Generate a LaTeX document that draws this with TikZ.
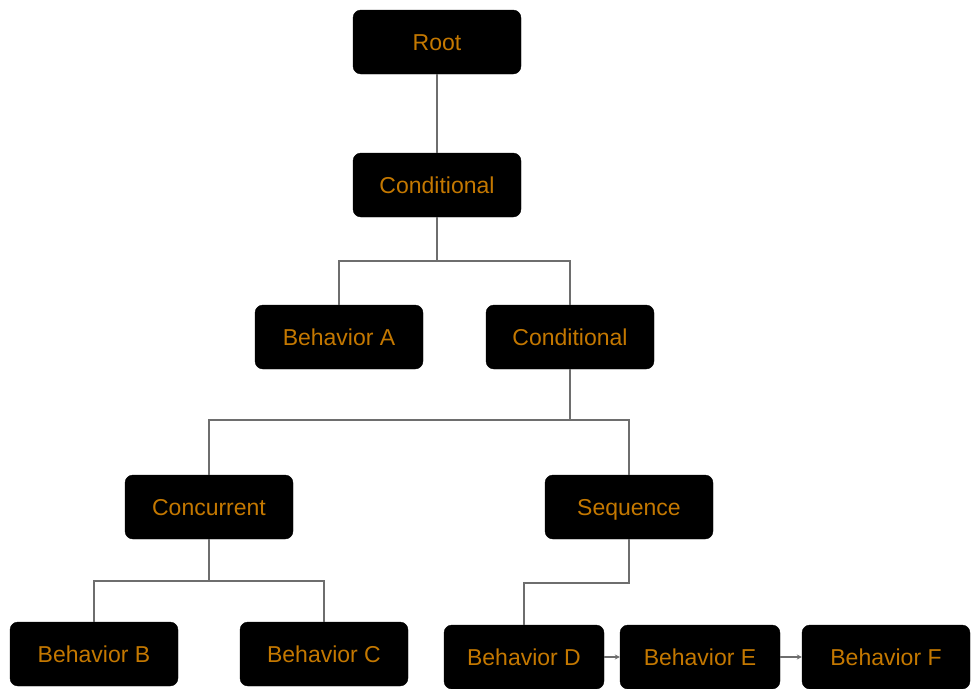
\documentclass[tikz,border=0pt]{standalone}
\usepackage{fontspec}
\setmainfont{Liberation Sans}
\usetikzlibrary{arrows.meta}
\definecolor{bhtext}{RGB}{196,120,0}
\definecolor{bhline}{RGB}{110,110,110}

\begin{document}
\begin{tikzpicture}[x=1pt,y=-1pt,
  bnode/.style={fill=black, draw=black, rounded corners=8pt, minimum width=168pt, minimum height=64pt,
    inner sep=0pt, text height=16pt, text depth=0pt, text=bhtext, font=\fontsize{23}{26}\selectfont},
  wide/.style={minimum width=160pt},
  link/.style={draw=bhline, line width=1.8pt}]
\useasboundingbox (0,0) rectangle (974,688);
\node[bnode] (root) at (437,42) {Root};
\node[bnode] (cond1) at (437,185) {Conditional};
\node[bnode] (behA) at (339,337) {Behavior A};
\node[bnode] (cond2) at (570,337) {Conditional};
\node[bnode] (conc) at (209,507) {Concurrent};
\node[bnode] (seq) at (629,507) {Sequence};
\node[bnode] (behB) at (94,654) {Behavior B};
\node[bnode] (behC) at (324,654) {Behavior C};
\node[bnode, wide] (behD) at (524,657) {Behavior D};
\node[bnode, wide] (behE) at (700,657) {Behavior E};
\node[bnode] (behF) at (886,657) {Behavior F};
% tree links
\draw[link] (root) -- (cond1);
\draw[link] (cond1.south) -- ++(0,44) -| (behA.north);
\draw[link] (cond1.south) ++(0,44) -| (cond2.north);
\draw[link] (cond2.south) -- ++(0,51) -| (conc.north);
\draw[link] (cond2.south) ++(0,51) -| (seq.north);
\draw[link] (conc.south) -- ++(0,42) -| (behB.north);
\draw[link] (conc.south) ++(0,42) -| (behC.north);
\draw[link] (seq.south) -- ++(0,44) -| (behD.north);
% sequence order
\draw[link, -{Stealth[length=5pt,width=5pt]}] (behD) -- (behE);
\draw[link, -{Stealth[length=5pt,width=5pt]}] (behE) -- (behF);
\end{tikzpicture}
\end{document}
